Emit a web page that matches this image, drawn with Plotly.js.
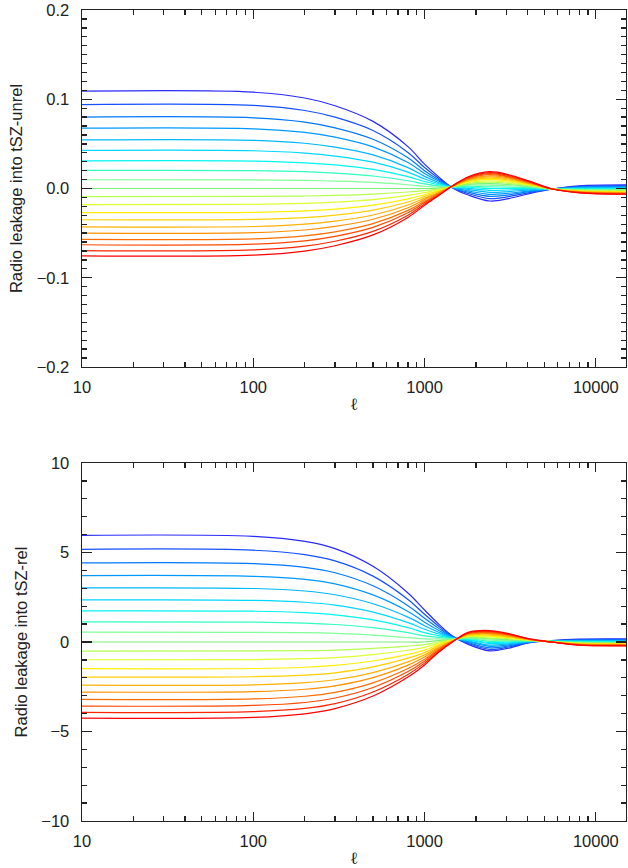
<!DOCTYPE html>
<html><head><meta charset="utf-8">
<script src="https://cdn.plot.ly/plotly-3.0.1.min.js"></script>
<style>html,body{margin:0;padding:0;background:#fff}#plot{width:628px;height:868px}</style>
</head><body><div id="plot"></div>
<script>
// multipole sample points
const ell = [10, 100, 200, 300, 500, 800, 1000, 1200, 1450, 1800, 2400, 3100, 4100, 5500, 8000, 16000];

// top panel: Radio leakage into tSZ-unrel (20 curves, blue -> red)
const unrel01 = [0.109, 0.1079, 0.1014, 0.0927, 0.0752, 0.0469, 0.0273, 0.0136, 0.0009, -0.0073, -0.0140, -0.0113, -0.0057, -0.0008, 0.0030, 0.0040];
const unrel02 = [0.094, 0.0931, 0.0874, 0.0799, 0.0649, 0.0404, 0.0235, 0.0118, 0.0011, -0.0056, -0.0113, -0.0091, -0.0046, -0.0008, 0.0023, 0.0032];
const unrel03 = [0.080, 0.0792, 0.0744, 0.0680, 0.0552, 0.0344, 0.0200, 0.0101, 0.0012, -0.0041, -0.0088, -0.0071, -0.0035, -0.0007, 0.0017, 0.0024];
const unrel04 = [0.0676, 0.0669, 0.0629, 0.0575, 0.0466, 0.0291, 0.0169, 0.0086, 0.0013, -0.0027, -0.0066, -0.0053, -0.0026, -0.0007, 0.0012, 0.0017];
const unrel05 = [0.0545, 0.0540, 0.0507, 0.0463, 0.0376, 0.0234, 0.0136, 0.0070, 0.0015, -0.0012, -0.0043, -0.0034, -0.0016, -0.0007, 0.0006, 0.0009];
const unrel06 = [0.0427, 0.0423, 0.0397, 0.0363, 0.0295, 0.0184, 0.0107, 0.0056, 0.0016, 0.0001, -0.0022, -0.0017, -0.0007, -0.0006, 0.0001, 0.0002];
const unrel07 = [0.031, 0.0307, 0.0288, 0.0264, 0.0214, 0.0133, 0.0078, 0.0042, 0.0017, 0.0014, -0.0001, 0.0000, 0.0002, -0.0006, -0.0004, -0.0004];
const unrel08 = [0.0203, 0.0201, 0.0189, 0.0173, 0.0140, 0.0087, 0.0051, 0.0029, 0.0018, 0.0025, 0.0018, 0.0016, 0.0010, -0.0006, -0.0008, -0.0010];
const unrel09 = [0.0098, 0.0097, 0.0091, 0.0083, 0.0068, 0.0042, 0.0025, 0.0017, 0.0019, 0.0037, 0.0037, 0.0031, 0.0018, -0.0005, -0.0013, -0.0016];
const unrel10 = [0.0, 0.0, 0.0, 0.0, 0.0, 0.0, 0.0, 0.0005, 0.0020, 0.0048, 0.0054, 0.0045, 0.0025, -0.0005, -0.0017, -0.0022];
const unrel11 = [-0.009, -0.0089, -0.0084, -0.0077, -0.0062, -0.0039, -0.0023, -0.0006, 0.0021, 0.0058, 0.0070, 0.0058, 0.0032, -0.0005, -0.0021, -0.0027];
const unrel12 = [-0.018, -0.0178, -0.0167, -0.0153, -0.0124, -0.0077, -0.0045, -0.0017, 0.0022, 0.0068, 0.0086, 0.0071, 0.0039, -0.0004, -0.0025, -0.0032];
const unrel13 = [-0.027, -0.0267, -0.0251, -0.0230, -0.0186, -0.0116, -0.0068, -0.0027, 0.0023, 0.0078, 0.0102, 0.0084, 0.0045, -0.0004, -0.0029, -0.0037];
const unrel14 = [-0.035, -0.0347, -0.0326, -0.0298, -0.0242, -0.0151, -0.0088, -0.0037, 0.0024, 0.0087, 0.0116, 0.0096, 0.0051, -0.0004, -0.0032, -0.0042];
const unrel15 = [-0.043, -0.0426, -0.0400, -0.0366, -0.0297, -0.0185, -0.0108, -0.0047, 0.0024, 0.0096, 0.0131, 0.0107, 0.0057, -0.0004, -0.0035, -0.0047];
const unrel16 = [-0.050, -0.0495, -0.0465, -0.0425, -0.0345, -0.0215, -0.0125, -0.0055, 0.0025, 0.0104, 0.0143, 0.0118, 0.0063, -0.0003, -0.0039, -0.0051];
const unrel17 = [-0.057, -0.0564, -0.0530, -0.0485, -0.0393, -0.0245, -0.0143, -0.0063, 0.0026, 0.0111, 0.0155, 0.0128, 0.0068, -0.0003, -0.0042, -0.0054];
const unrel18 = [-0.063, -0.0624, -0.0586, -0.0536, -0.0435, -0.0271, -0.0158, -0.0071, 0.0026, 0.0118, 0.0166, 0.0136, 0.0072, -0.0003, -0.0044, -0.0058];
const unrel19 = [-0.0695, -0.0688, -0.0646, -0.0591, -0.0480, -0.0299, -0.0174, -0.0078, 0.0027, 0.0125, 0.0178, 0.0146, 0.0077, -0.0003, -0.0047, -0.0062];
const unrel20 = [-0.0754, -0.0746, -0.0701, -0.0641, -0.0520, -0.0324, -0.0189, -0.0085, 0.0028, 0.0132, 0.0188, 0.0154, 0.0082, -0.0003, -0.0049, -0.0065];

// bottom panel: Radio leakage into tSZ-rel
const rel01 = [5.96, 5.90, 5.62, 5.22, 4.23, 2.74, 1.79, 1.03, 0.35, -0.13, -0.49, -0.34, -0.04, 0.08, 0.16, 0.17];
const rel02 = [5.18, 5.13, 4.88, 4.53, 3.68, 2.38, 1.55, 0.91, 0.32, -0.08, -0.41, -0.28, -0.03, 0.07, 0.13, 0.14];
const rel03 = [4.42, 4.38, 4.17, 3.87, 3.14, 2.03, 1.33, 0.79, 0.29, -0.03, -0.32, -0.22, -0.01, 0.07, 0.11, 0.11];
const rel04 = [3.71, 3.67, 3.50, 3.25, 2.63, 1.71, 1.11, 0.67, 0.27, 0.02, -0.24, -0.16, 0.00, 0.06, 0.08, 0.09];
const rel05 = [3.02, 2.99, 2.85, 2.64, 2.14, 1.39, 0.91, 0.56, 0.25, 0.06, -0.17, -0.10, 0.02, 0.05, 0.06, 0.06];
const rel06 = [2.35, 2.33, 2.22, 2.06, 1.67, 1.08, 0.71, 0.46, 0.22, 0.11, -0.09, -0.05, 0.03, 0.05, 0.04, 0.04];
const rel07 = [1.74, 1.72, 1.64, 1.52, 1.24, 0.80, 0.52, 0.36, 0.20, 0.15, -0.03, 0.00, 0.05, 0.04, 0.02, 0.01];
const rel08 = [1.12, 1.11, 1.06, 0.98, 0.80, 0.52, 0.34, 0.26, 0.18, 0.19, 0.04, 0.05, 0.06, 0.04, 0.00, -0.01];
const rel09 = [0.55, 0.54, 0.52, 0.48, 0.39, 0.25, 0.17, 0.17, 0.16, 0.22, 0.11, 0.09, 0.07, 0.03, -0.02, -0.03];
const rel10 = [0.0, 0.0, 0.0, 0.0, 0.0, 0.0, 0.0, 0.08, 0.14, 0.26, 0.17, 0.13, 0.08, 0.03, -0.04, -0.05];
const rel11 = [-0.51, -0.50, -0.48, -0.45, -0.36, -0.23, -0.15, 0.00, 0.12, 0.29, 0.22, 0.17, 0.09, 0.03, -0.06, -0.07];
const rel12 = [-0.99, -0.98, -0.93, -0.87, -0.70, -0.46, -0.30, -0.08, 0.11, 0.32, 0.28, 0.21, 0.10, 0.02, -0.07, -0.09];
const rel13 = [-1.49, -1.48, -1.41, -1.30, -1.06, -0.69, -0.45, -0.16, 0.09, 0.36, 0.33, 0.25, 0.11, 0.02, -0.09, -0.11];
const rel14 = [-1.96, -1.94, -1.85, -1.72, -1.39, -0.90, -0.59, -0.23, 0.07, 0.39, 0.39, 0.29, 0.12, 0.01, -0.10, -0.12];
const rel15 = [-2.41, -2.39, -2.27, -2.11, -1.71, -1.11, -0.72, -0.31, 0.06, 0.42, 0.44, 0.32, 0.13, 0.01, -0.12, -0.14];
const rel16 = [-2.80, -2.77, -2.64, -2.45, -1.99, -1.29, -0.84, -0.37, 0.04, 0.44, 0.48, 0.36, 0.14, 0.01, -0.13, -0.15];
const rel17 = [-3.21, -3.18, -3.03, -2.81, -2.28, -1.48, -0.96, -0.43, 0.03, 0.47, 0.52, 0.39, 0.15, 0.00, -0.15, -0.17];
const rel18 = [-3.58, -3.54, -3.38, -3.13, -2.54, -1.65, -1.07, -0.49, 0.02, 0.49, 0.57, 0.42, 0.16, 0.00, -0.16, -0.18];
const rel19 = [-3.93, -3.89, -3.71, -3.44, -2.79, -1.81, -1.18, -0.55, 0.00, 0.52, 0.60, 0.44, 0.17, 0.00, -0.17, -0.20];
const rel20 = [-4.25, -4.21, -4.01, -3.72, -3.02, -1.96, -1.28, -0.60, -0.01, 0.54, 0.64, 0.47, 0.17, 0.00, -0.18, -0.21];

const unrelSeries = [unrel01, unrel02, unrel03, unrel04, unrel05, unrel06, unrel07, unrel08, unrel09, unrel10,
  unrel11, unrel12, unrel13, unrel14, unrel15, unrel16, unrel17, unrel18, unrel19, unrel20];
const relSeries = [rel01, rel02, rel03, rel04, rel05, rel06, rel07, rel08, rel09, rel10,
  rel11, rel12, rel13, rel14, rel15, rel16, rel17, rel18, rel19, rel20];

// styling
const colors = ['#2a2aff', '#1450ff', '#0078ff', '#0098ff', '#00b8ff', '#00d8ff', '#00f6f0', '#30ffc0',
  '#80ff9a', '#78f078', '#b4ff50', '#dcff30', '#fff000', '#ffd000', '#ffb000', '#ff9000',
  '#ff6c00', '#ff4800', '#ff2400', '#ff0000'];

const traces = [];
unrelSeries.forEach((s, i) => traces.push({x: ell, y: s, xaxis: 'x', yaxis: 'y', type: 'scatter', mode: 'lines',
  line: {color: colors[i], width: 1.2, shape: 'spline', smoothing: 1}, hoverinfo: 'skip'}));
relSeries.forEach((s, i) => traces.push({x: ell, y: s, xaxis: 'x2', yaxis: 'y2', type: 'scatter', mode: 'lines',
  line: {color: colors[i], width: 1.2, shape: 'spline', smoothing: 1}, hoverinfo: 'skip'}));

const font = {family: 'Liberation Sans, Arial, sans-serif', size: 16.5, color: '#222'};
const axc = '#222';
const xr = [1, Math.log10(15000)];
function xax(anchor) {
  return {type: 'log', range: xr, anchor: anchor, showgrid: false, zeroline: false,
    showline: true, linecolor: axc, linewidth: 1.2, mirror: 'ticks',
    ticks: 'inside', ticklen: 9, tickcolor: axc, tickwidth: 1.3,
    tickmode: 'linear', tick0: 0, dtick: 1, tickformat: 'd', ticklabelstandoff: 5,
    minor: {ticks: 'inside', ticklen: 5, tickcolor: axc, tickwidth: 1.3, dtick: 'D1', showgrid: false},
    title: {text: 'ℓ', font: {family: 'DejaVu Serif, serif', size: 17, color: '#222'}, standoff: 3},
    tickfont: font};
}
function yax(domain, lo, hi, step, minorStep, fmt, title, anchor) {
  return {domain: domain, range: [lo, hi], anchor: anchor,
    showgrid: false, zeroline: false, showline: true, linecolor: axc, linewidth: 1.2, mirror: 'ticks',
    ticks: 'inside', ticklen: 10, tickcolor: axc, tickwidth: 1.3,
    tickmode: 'linear', tick0: lo, dtick: step, tickformat: fmt, ticksuffix: '\u2002',
    minor: {ticks: 'inside', ticklen: 5, tickcolor: axc, tickwidth: 1.3, dtick: minorStep, showgrid: false},
    title: {text: title, font: font, standoff: 9}, tickfont: font};
}

const layout = {
  width: 628, height: 868, paper_bgcolor: '#fff', plot_bgcolor: '#fff', showlegend: false,
  margin: {l: 82, r: 2, t: 10, b: 47},
  xaxis: xax('y'),
  yaxis: yax([0.5598, 1], -0.2, 0.2, 0.1, 0.01, '.1f', 'Radio leakage into tSZ-unrel', 'x'),
  xaxis2: xax('y2'),
  yaxis2: yax([0, 0.4414], -10, 10, 5, 1, 'd', 'Radio leakage into tSZ-rel', 'x2'),
  font: font
};
Plotly.newPlot('plot', traces, layout, {staticPlot: true, displayModeBar: false});
</script></body></html>
